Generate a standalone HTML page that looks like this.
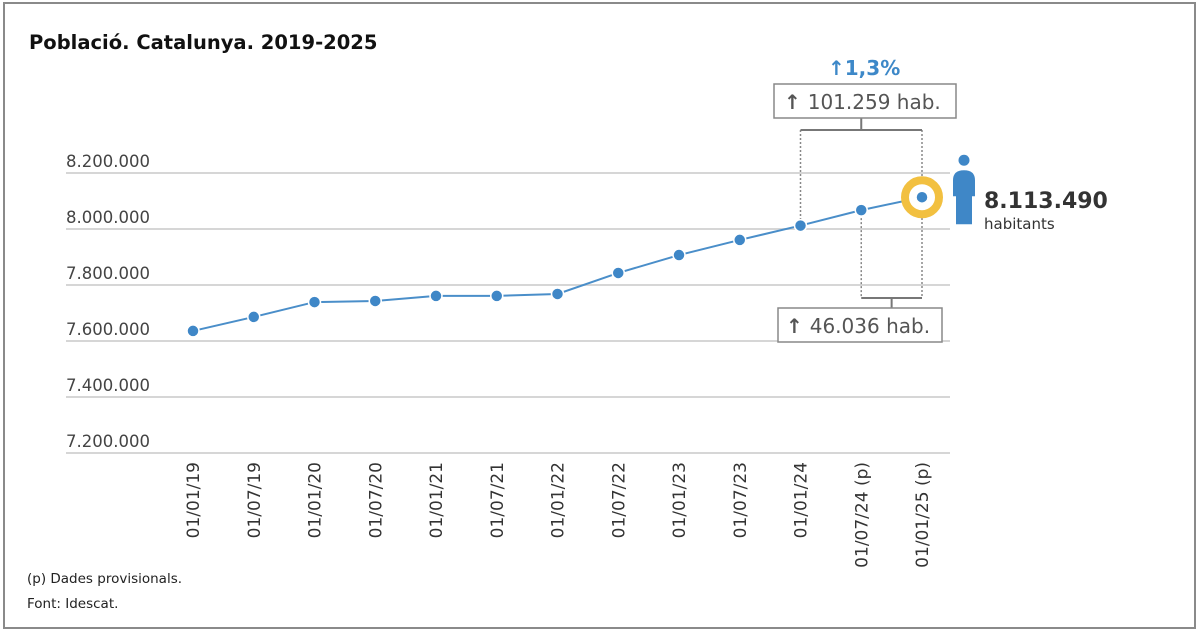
<!DOCTYPE html>
<html><head><meta charset="utf-8"><style>
body{margin:0;background:#fff;font-family:"DejaVu Sans","Liberation Sans",sans-serif}
svg{display:block;font-family:"DejaVu Sans","Liberation Sans",sans-serif}
</style></head><body>
<svg id="c" width="1200" height="632" viewBox="0 0 1200 632" xmlns="http://www.w3.org/2000/svg">
<rect x="4" y="3" width="1191" height="625" fill="#fff" stroke="#8a8a8a" stroke-width="2"/>
<text x="29" y="49" font-size="19.5" font-weight="bold" fill="#111">Població. Catalunya. 2019-2025</text>
<g id="grid"></g><g id="xl"></g><g id="ann"></g><g id="line"></g>
<text x="27" y="583" font-size="13.5" fill="#222">(p) Dades provisionals.</text>
<text x="27" y="608" font-size="13.5" fill="#222">Font: Idescat.</text>
</svg>
<script>
const categories=["01/01/19","01/07/19","01/01/20","01/07/20","01/01/21","01/07/21","01/01/22","01/07/22","01/01/23","01/07/23","01/01/24","01/07/24 (p)","01/01/25 (p)"];
const values=[7636000,7686000,7739000,7743000,7761000,7761000,7768000,7843000,7907000,7961000,8012231,8067454,8113490];
const yTicks=[7200000,7400000,7600000,7800000,8000000,8200000];
const yTickLabels=["7.200.000","7.400.000","7.600.000","7.800.000","8.000.000","8.200.000"];
const NS="http://www.w3.org/2000/svg";
const x=i=>193+i*(922-193)/(categories.length-1);
const y=v=>453-(v-7200000)*(453-173)/1000000;
function mk(t,a,p){const e=document.createElementNS(NS,t);for(const k in a)e.setAttribute(k,a[k]);p.appendChild(e);return e;}
const G=document.getElementById('grid'),XL=document.getElementById('xl'),L=document.getElementById('line'),A=document.getElementById('ann');
yTicks.forEach((t,i)=>{
 const l=mk('line',{x1:66,x2:950,y1:y(t),y2:y(t),stroke:'#d6d6d6','stroke-width':2},G);
 
 
 const tx=mk('text',{x:66,y:y(t)-6,'font-size':16.5,fill:'#444'},G);tx.textContent=yTickLabels[i];
 
 
});
categories.forEach((c,i)=>{
 const tx=mk('text',{transform:`translate(${x(i)+6},462) rotate(-90)`,'text-anchor':'end','font-size':17,fill:'#333'},XL);tx.textContent=c;
 
 
});
const n=values.length;
const dash={stroke:'#888','stroke-width':1.5,'stroke-dasharray':'2,2',fill:'none'};
const solid={stroke:'#777','stroke-width':2,fill:'none'};
const iA=n-3,iB=n-2,iC=n-1;
mk('line',Object.assign({x1:x(iA),x2:x(iA),y1:130,y2:y(values[iA])},dash),A);
mk('line',Object.assign({x1:x(iC),x2:x(iC),y1:130,y2:298},dash),A);
mk('line',Object.assign({x1:x(iB),x2:x(iB),y1:y(values[iB]),y2:298},dash),A);
mk('polyline',Object.assign({points:`${x(iA)},130 ${x(iC)},130`},solid),A);
mk('line',Object.assign({x1:(x(iA)+x(iC))/2,x2:(x(iA)+x(iC))/2,y1:118,y2:130},solid),A);
mk('polyline',Object.assign({points:`${x(iB)},298 ${x(iC)},298`},solid),A);
mk('line',Object.assign({x1:(x(iB)+x(iC))/2,x2:(x(iB)+x(iC))/2,y1:298,y2:308},solid),A);
const b1=mk('rect',{x:774,y:84,width:182,height:34,fill:'#fff',stroke:'#888','stroke-width':1.5},A);


const t1=mk('text',{x:784,y:109,'font-size':20,fill:'#555'},A);
const a1=mk('tspan',{'font-weight':'bold'},t1);a1.textContent='↑ ';
const s1=mk('tspan',{},t1);s1.textContent=(values[iC]-values[iA]).toLocaleString('de-DE')+' hab.';


const b2=mk('rect',{x:778,y:308,width:164,height:34,fill:'#fff',stroke:'#888','stroke-width':1.5},A);


const t2=mk('text',{x:786,y:333,'font-size':20,fill:'#555'},A);
const a2=mk('tspan',{'font-weight':'bold'},t2);a2.textContent='↑ ';
const s2=mk('tspan',{},t2);s2.textContent=(values[iC]-values[iB]).toLocaleString('de-DE')+' hab.';


const pct=mk('text',{x:828,y:75,'font-size':20,'font-weight':'bold',fill:'#3d88c8'},A);
pct.textContent='↑1,3%';


const pl=mk('polyline',{points:values.map((v,i)=>x(i)+','+y(v)).join(' '),fill:'none',stroke:'#4a8ec9','stroke-width':2},L);


const ring=mk('circle',{cx:x(n-1),cy:y(values[n-1]),r:17,fill:'#fff',stroke:'#f2c040','stroke-width':8},L);


values.forEach((v,i)=>{
 const c=mk('circle',{cx:x(i),cy:y(v),r:6,fill:'#3f87c7',stroke:'#fff','stroke-width':1.5},L);
 
 
});
const lx=x(n-1),ly=y(values[n-1]);
mk('circle',{cx:lx+42,cy:ly-37,r:5.5,fill:'#3f87c7'},A);
mk('path',{d:`M${lx+31},${ly-17} q0,-10 11,-10 q11,0 11,10 v16 h-3 v28 h-16 v-28 h-3 z`,fill:'#3f87c7'},A);
const big=mk('text',{x:lx+62,y:ly+11,'font-size':22,'font-weight':'bold',fill:'#333'},A);
big.textContent=values[n-1].toLocaleString('de-DE');


const hab=mk('text',{x:lx+62,y:ly+32,'font-size':15,fill:'#333'},A);hab.textContent='habitants';


</script>
</body></html>
